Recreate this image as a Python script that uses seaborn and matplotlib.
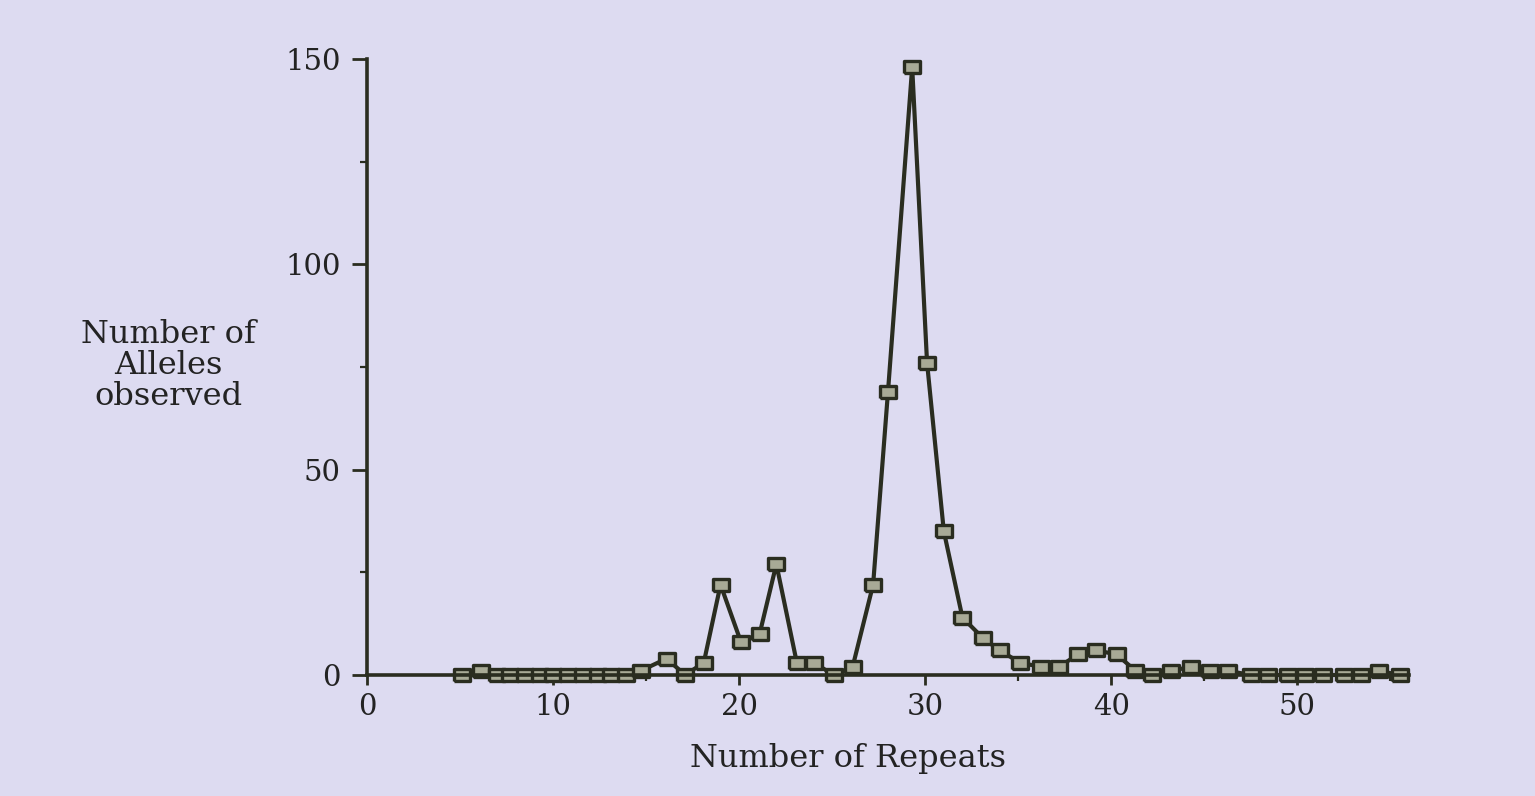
import matplotlib
matplotlib.use("Agg")
import matplotlib.pyplot as plt
import seaborn as sns
import pandas as pd
from matplotlib.ticker import MultipleLocator

# ---- data ----
repeats = [5.1, 6.1, 7.0, 7.7, 8.5, 9.3, 10.0, 10.8, 11.6, 12.4, 13.1, 13.9, 14.7,
           16.1, 17.1, 18.1, 19.0, 20.1, 21.1, 22.0, 23.1, 24.0, 25.1, 26.1, 27.2,
           28.0, 29.3, 30.1, 31.0, 32.0, 33.1, 34.0, 35.1, 36.2, 37.2, 38.2, 39.2,
           40.3, 41.3, 42.2, 43.2, 44.3, 45.3, 46.3, 47.5, 48.4, 49.5, 50.4, 51.4,
           52.5, 53.4, 54.4, 55.5]
alleles = [0, 1, 0, 0, 0, 0, 0, 0, 0, 0, 0, 0, 1,
           4, 0, 3, 22, 8, 10, 27, 3, 3, 0, 2, 22,
           69, 148, 76, 35, 14, 9, 6, 3, 2, 2, 5, 6,
           5, 1, 0, 1, 2, 1, 1, 0, 0, 0, 0, 0,
           0, 0, 1, 0]
x_ticks = [0, 10, 20, 30, 40, 50]
y_ticks = [0, 50, 100, 150]
x_label = "Number of Repeats"
y_label = "Number of\nAlleles\nobserved"

df = pd.DataFrame({"repeats": repeats, "alleles": alleles})

BG = "#dddbf1"
INK = "#2a2d20"
TXT = "#232323"

sns.set_theme(style="ticks")
plt.rcParams["font.family"] = ["DejaVu Serif"]

fig = plt.figure(figsize=(15.35, 7.96), dpi=100, facecolor=BG)
ax = fig.add_axes([0.2391, 0.1520, 0.6788, 0.7739])
ax.set_facecolor(BG)

# horizontally stretched square marker (the reference image is stretched)
wide_square = [(-1.4, -1.0), (1.4, -1.0), (1.4, 1.0), (-1.4, 1.0), (-1.4, -1.0)]

sns.lineplot(data=df, x="repeats", y="alleles", ax=ax, color=INK, linewidth=3.0,
             marker=wide_square, markersize=12, markerfacecolor="#a8aa96",
             markeredgecolor=INK, markeredgewidth=2.4, clip_on=False)

ax.set_xlim(0, 56)
ax.set_ylim(0, 150)
ax.set_xticks(x_ticks)
ax.set_yticks(y_ticks)
ax.xaxis.set_minor_locator(MultipleLocator(5))
ax.yaxis.set_minor_locator(MultipleLocator(25))

for side in ("top", "right"):
    ax.spines[side].set_visible(False)
for side in ("left", "bottom"):
    ax.spines[side].set_color(INK)
    ax.spines[side].set_linewidth(2.6)

ax.tick_params(axis="x", which="major", direction="out", length=7, width=2.0,
               color=INK, labelsize=21, labelcolor=TXT, pad=6)
ax.tick_params(axis="x", which="minor", direction="out", length=4, width=1.6, color=INK)
ax.tick_params(axis="y", which="major", direction="out", length=11, width=2.0,
               color=INK, labelsize=21, labelcolor=TXT, pad=8)
ax.tick_params(axis="y", which="minor", direction="out", length=5, width=1.6, color=INK)

ax.set_xlabel(x_label, fontsize=23, color=TXT)
ax.xaxis.set_label_coords(0.4616, -0.110)
ax.xaxis.label.set_va("top")

ax.set_ylabel(y_label, fontsize=23, color=TXT, rotation=0, ha="center",
              va="center", linespacing=1.0)
ax.yaxis.set_label_coords(-0.191, 0.503)

fig.savefig("out.png", dpi=100, facecolor=BG)
